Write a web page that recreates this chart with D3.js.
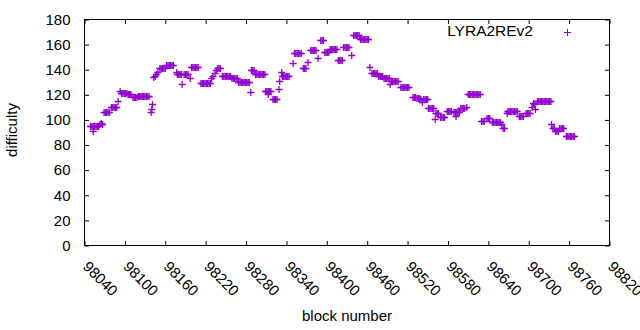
<!DOCTYPE html>
<html>
<head>
<meta charset="utf-8">
<script src="https://cdn.jsdelivr.net/npm/d3@7"></script>
<style>
body { margin: 0; background: #fff; }
text { font-family: "Liberation Sans", Arial, sans-serif; font-size: 15px; fill: #000; }
</style>
</head>
<body>
<div id="chart"></div>
<script>
var seriesName = "LYRA2REv2";

// block numbers of the plotted points
var blocks = [
  98049, 98051, 98053, 98055, 98057, 98059, 98061, 98063, 98065, 98067, 98053,
  98069, 98071, 98073, 98075, 98077,
  98080, 98082, 98084, 98086, 98088, 98090,
  98093, 98095, 98097, 98099, 98101, 98103, 98105, 98107, 98109,
  98112, 98114, 98116, 98118, 98120, 98122, 98124, 98126, 98128, 98130, 98132, 98134, 98136,
  98139, 98140, 98141,
  98143, 98145, 98147, 98149, 98152, 98154, 98156, 98158, 98160, 98162, 98164, 98166, 98168, 98170, 98172,
  98177, 98178, 98180, 98182, 98184, 98185,
  98188, 98190, 98192, 98194, 98197,
  98199, 98201, 98203, 98205, 98207, 98209,
  98213, 98215, 98217, 98219, 98221, 98223, 98225, 98227,
  98229, 98231, 98234, 98236, 98238, 98240, 98242,
  98245, 98247, 98249, 98251, 98253, 98255, 98257,
  98259, 98261, 98263, 98265, 98267,
  98269, 98271, 98273, 98275, 98277, 98279, 98281, 98283, 98285,
  98287, 98288, 98290, 98292,
  98294, 98296, 98298, 98300, 98302, 98304, 98306, 98308,
  98309, 98311, 98313, 98315, 98317, 98313,
  98320, 98322, 98324, 98326, 98329, 98330,
  98333, 98334, 98336, 98338, 98340, 98342, 98344,
  98350, 98352, 98354, 98356, 98358, 98360, 98362,
  98365, 98367, 98369, 98372,
  98376, 98378, 98380, 98382, 98384, 98387,
  98391, 98393, 98395, 98397, 98399, 98401, 98403,
  98405, 98407, 98409, 98411, 98413, 98415,
  98417, 98419, 98421, 98423,
  98425, 98427, 98429, 98431, 98433, 98437,
  98440, 98442, 98444, 98446, 98448,
  98450, 98452, 98454, 98456, 98458, 98460, 98462, 98464,
  98467, 98469, 98471, 98473, 98475,
  98477, 98479, 98481, 98483,
  98485, 98487, 98489, 98491, 98493, 98494,
  98496, 98498, 98500, 98502, 98504, 98506,
  98510, 98512, 98514, 98516, 98518, 98520, 98522,
  98528, 98530, 98532, 98534, 98536, 98538, 98540, 98542,
  98544, 98546, 98548, 98550, 98551,
  98553, 98555, 98557, 98559, 98561,
  98562, 98564, 98566,
  98569, 98571, 98573, 98575,
  98579, 98581, 98583, 98585,
  98589, 98591, 98593, 98595, 98597, 98592,
  98599, 98601, 98603, 98605, 98608,
  98610, 98612, 98614, 98616, 98618, 98620, 98622, 98624, 98626, 98628,
  98630, 98632, 98634, 98638, 98640, 98642,
  98646, 98648, 98650, 98652, 98654, 98656, 98658,
  98660, 98662, 98664,
  98668, 98669, 98671, 98673, 98675, 98677, 98679, 98681, 98683,
  98686, 98688, 98690, 98692,
  98696, 98698, 98700, 98702,
  98705, 98707, 98709, 98710,
  98713, 98715, 98717, 98719, 98721, 98723, 98725, 98727, 98729, 98731, 98733,
  98734, 98736, 98738, 98740, 98742, 98744,
  98746, 98748, 98750, 98752,
  98756, 98758, 98760, 98762, 98764, 98766, 98768
];

var difficulty = [
  95, 95, 95, 95, 95, 95, 95, 96, 97, 96, 91,
  106, 106, 106, 106, 106,
  110, 110, 110, 110, 110, 115,
  123, 121, 121, 121, 121, 121, 120, 120, 120,
  118, 118, 118, 118, 119, 119, 119, 119, 119, 119, 119, 119, 119,
  106, 108, 112,
  134, 135, 136, 138, 141, 141, 141, 141, 141, 143, 143, 143, 143, 143, 143,
  138, 136, 136, 136, 136, 128,
  136, 136, 136, 136, 133,
  142, 142, 142, 142, 142, 142,
  129, 129, 129, 129, 129, 129, 129, 129,
  133, 135, 137, 139, 141, 141, 141,
  135, 135, 135, 135, 135, 135, 135,
  133, 133, 133, 133, 133,
  130, 130, 130, 130, 130, 130, 130, 130, 130,
  122, 139, 139, 139,
  136, 136, 136, 136, 136, 136, 136, 136,
  123, 123, 123, 123, 123, 120,
  116, 116, 116, 116, 124, 131,
  138, 135, 135, 135, 135, 135, 135,
  145, 153, 153, 153, 153, 153, 153,
  141, 141, 141, 146,
  155, 155, 155, 155, 155, 149,
  163, 163, 163, 154, 154, 154, 154,
  156, 156, 156, 156, 156, 156,
  147, 147, 147, 147,
  158, 158, 158, 158, 158, 151,
  167, 167, 167, 167, 167,
  164, 164, 164, 164, 164, 164, 164, 142,
  137, 137, 137, 137, 137,
  135, 135, 135, 135,
  133, 133, 133, 133, 133, 128,
  131, 131, 131, 131, 131, 131,
  126, 126, 126, 126, 126, 126, 126,
  118, 118, 118, 117, 117, 117, 116, 114,
  116, 116, 116, 116, 109,
  109, 109, 109, 109, 100,
  105, 105, 105,
  102, 102, 102, 102,
  107, 107, 107, 107,
  106, 106, 106, 106, 106, 103,
  109, 109, 109, 109, 110,
  120, 120, 120, 120, 120, 120, 120, 120, 120, 120,
  99, 99, 99, 101, 101, 101,
  98, 98, 98, 98, 98, 98, 98,
  96, 93, 93,
  105, 107, 107, 107, 107, 107, 107, 107, 107,
  103, 103, 103, 103,
  105, 105, 105, 105,
  110, 113, 112, 108,
  115, 115, 115, 115, 115, 115, 115, 115, 115, 115, 115,
  96, 93, 93, 91, 91, 91,
  93, 93, 93, 93,
  87, 87, 87, 87, 87, 87, 87
];

var xTicks = [98040, 98100, 98160, 98220, 98280, 98340, 98400, 98460, 98520, 98580, 98640, 98700, 98760, 98820];
var yTicks = [0, 20, 40, 60, 80, 100, 120, 140, 160, 180];

var width = 640,
    height = 330,
    plotLeft = 84.5, plotRight = 609.5, plotTop = 19.5, plotBottom = 245.5,
    tickLen = 4.5,
    color = "#9400d3";

var x = d3.scaleLinear().domain([98040, 98820]).range([plotLeft, plotRight]);
var y = d3.scaleLinear().domain([0, 180]).range([plotBottom, plotTop]);

var svg = d3.select("#chart").append("svg")
    .attr("width", width)
    .attr("height", height);

// axes, ticks pointing inward on all four sides
var gx = svg.append("g")
    .attr("transform", "translate(0," + plotBottom + ")")
    .call(d3.axisBottom(x).tickValues(xTicks).tickFormat(d3.format("d")).tickSize(-tickLen));
gx.selectAll("text")
    .attr("x", 0).attr("y", 0).attr("dy", null)
    .style("text-anchor", "start")
    .attr("transform", "translate(-3,22) rotate(45)");

svg.append("g")
    .attr("transform", "translate(0," + plotTop + ")")
    .call(d3.axisTop(x).tickValues(xTicks).tickFormat("").tickSize(-tickLen));

svg.append("g")
    .attr("transform", "translate(" + plotLeft + ",0)")
    .call(d3.axisLeft(y).tickValues(yTicks).tickSize(-tickLen).tickPadding(14));

svg.append("g")
    .attr("transform", "translate(" + plotRight + ",0)")
    .call(d3.axisRight(y).tickValues(yTicks).tickFormat("").tickSize(-tickLen));

svg.selectAll(".domain").remove();
svg.selectAll(".tick line").attr("stroke", "#000");
svg.selectAll(".tick text").style("font-size", "15px").style("font-family", "'Liberation Sans', Arial, sans-serif");

svg.append("rect")
    .attr("x", plotLeft).attr("y", plotTop)
    .attr("width", plotRight - plotLeft).attr("height", plotBottom - plotTop)
    .attr("fill", "none").attr("stroke", "#000");

// points: gnuplot style "+" markers
var plus = "M-3.5,0H3.5M0,-3.5V3.5";
svg.append("g").selectAll("path")
    .data(blocks.map(function(b, i) { return [b, difficulty[i]]; }))
    .enter().append("path")
    .attr("d", plus)
    .attr("transform", function(d) {
        return "translate(" + x(d[0]) + "," + (Math.round(y(d[1]) - 0.5) + 0.5) + ")";
    })
    .attr("stroke", color)
    .attr("stroke-width", 1.3)
    .attr("fill", "none");

// legend
svg.append("text")
    .attr("x", 533).attr("y", 36)
    .style("text-anchor", "end")
    .style("font-size", "15.5px")
    .text(seriesName);
svg.append("path")
    .attr("d", plus)
    .attr("transform", "translate(567.5,32.5)")
    .attr("stroke", color)
    .attr("fill", "none");

// axis titles
svg.append("text")
    .attr("transform", "translate(17,130) rotate(-90)")
    .style("text-anchor", "middle")
    .text("difficulty");
svg.append("text")
    .attr("x", (plotLeft + plotRight) / 2).attr("y", 321)
    .style("text-anchor", "middle")
    .text("block number");
</script>
</body>
</html>
